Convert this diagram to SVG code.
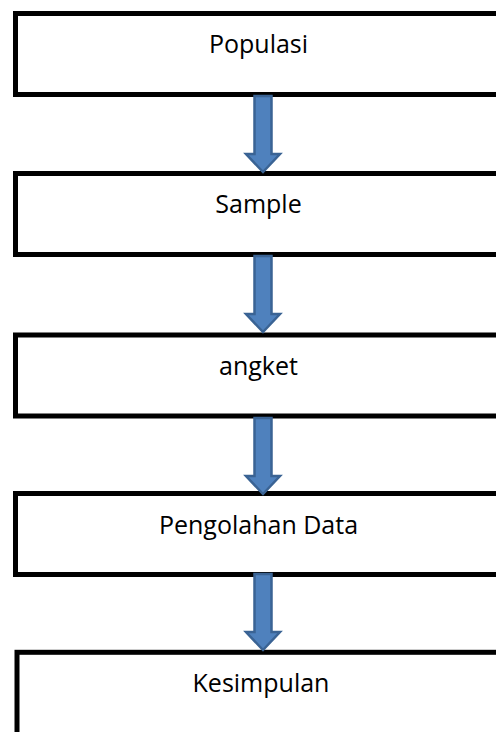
<svg xmlns="http://www.w3.org/2000/svg" width="496" height="732" viewBox="0 0 496 732">
<style>
.box{fill:#fff;stroke:#000;stroke-width:5}
.lbl{font-family:"Open Sans","Noto Sans","Liberation Sans",sans-serif;font-size:25px;fill:#000;text-anchor:middle}
.arr{fill:#4F81BD;stroke:#3A6394;stroke-width:2.5;stroke-linejoin:miter}
</style>
<defs>
<path id="down" class="arr" d="M -8.5 0 H 8.5 V 58 H 17 L 0 76 L -17 58 H -8.5 Z"/>
</defs>
<rect width="496" height="732" fill="#fff"/>
<g id="node-populasi">
<rect class="box" x="15.5" y="13.5" width="486" height="81"/>
<text class="lbl" x="258.5" y="53.3">Populasi</text>
</g>
<g id="node-sample">
<rect class="box" x="15.5" y="173.5" width="486" height="81"/>
<text class="lbl" x="258.5" y="213.3">Sample</text>
</g>
<g id="node-angket">
<rect class="box" x="15.5" y="335" width="486" height="81"/>
<text class="lbl" x="258.5" y="375">angket</text>
</g>
<g id="node-pengolahan">
<rect class="box" x="15.5" y="493.5" width="486" height="81"/>
<text class="lbl" x="258.5" y="534">Pengolahan Data</text>
</g>
<g id="node-kesimpulan">
<rect class="box" x="17" y="652.3" width="490" height="100"/>
<text class="lbl" x="261" y="691.7">Kesimpulan</text>
</g>
<g id="connectors">
<use href="#down" transform="translate(263,96)"/>
<use href="#down" transform="translate(263,256)"/>
<use href="#down" transform="translate(263,418)"/>
<use href="#down" transform="translate(263,574)"/>
</g>
</svg>
